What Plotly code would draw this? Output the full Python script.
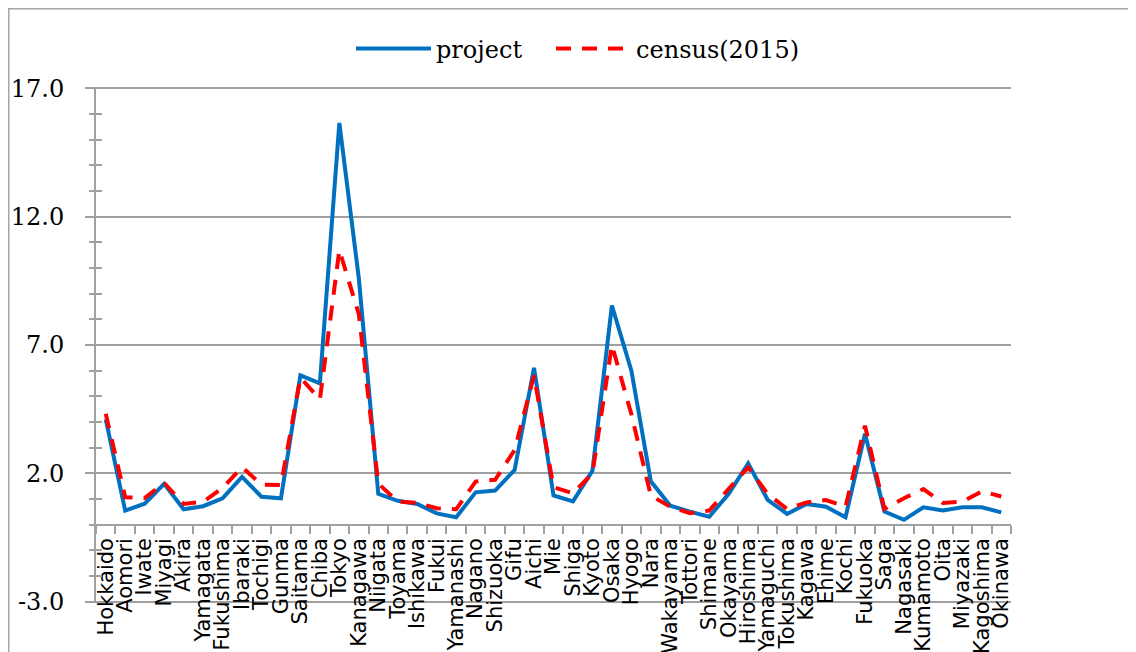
import plotly.graph_objects as go

prefectures = ["Hokkaido", "Aomori", "Iwate", "Miyagi", "Akira", "Yamagata", "Fukushima",
               "Ibaraki", "Tochigi", "Gunma", "Saitama", "Chiba", "Tokyo", "Kanagawa",
               "Niigata", "Toyama", "Ishikawa", "Fukui", "Yamanashi", "Nagano", "Shizuoka",
               "Gifu", "Aichi", "Mie", "Shiga", "Kyoto", "Osaka", "Hyogo", "Nara",
               "Wakayama", "Tottori", "Shimane", "Okayama", "Hiroshima", "Yamaguchi",
               "Tokushima", "Kagawa", "Ehime", "Kochi", "Fukuoka", "Saga", "Nagasaki",
               "Kumamoto", "Oita", "Miyazaki", "Kagoshima", "Okinawa"]

project = [4.10, 0.55, 0.82, 1.59, 0.60, 0.72, 1.03,
           1.86, 1.09, 1.03, 5.82, 5.51, 15.65, 9.6,
           1.20, 0.93, 0.81, 0.44, 0.29, 1.26, 1.33,
           2.13, 6.11, 1.14, 0.91, 2.10, 8.54, 6.0, 1.69,
           0.74, 0.51, 0.31, 1.20, 2.39, 0.97,
           0.42, 0.81, 0.70, 0.29, 3.54, 0.51, 0.19,
           0.68, 0.55, 0.68, 0.68, 0.48]

census2015 = [4.32, 1.07, 1.04, 1.63, 0.81, 0.89, 1.43,
              2.24, 1.56, 1.55, 5.73, 4.88, 10.7, 8.2,
              1.60, 0.90, 0.85, 0.64, 0.60, 1.68, 1.75,
              2.90, 5.81, 1.46, 1.22, 2.00, 7.00, 4.30, 1.13,
              0.70, 0.45, 0.55, 1.40, 2.23, 1.20,
              0.61, 0.87, 0.96, 0.70, 3.86, 0.61, 1.03,
              1.39, 0.85, 0.90, 1.30, 1.10]

y_ticks = [-3, 2, 7, 12, 17]
series_names = ["project", "census(2015)"]

GRID = "#A0A0A0"
SERIF = "DejaVu Serif"
Y_RANGE = [-3.05, 17.05]

fig = go.Figure()
fig.add_trace(go.Scatter(x=prefectures, y=project, name=series_names[0], mode="lines",
                         line=dict(color="#0070C0", width=4), legend="legend"))
fig.add_trace(go.Scatter(x=prefectures, y=census2015, name=series_names[1], mode="lines",
                         line=dict(color="#FF0000", width=4, dash="15px,11px"),
                         legend="legend2"))
# invisible trace carrying the second (tick-only) y axis
fig.add_trace(go.Scatter(x=prefectures, y=project, yaxis="y2", mode="lines",
                         line=dict(width=0), showlegend=False, hoverinfo="skip", opacity=0))

legend_style = dict(orientation="h", xanchor="left", y=1.074, yanchor="middle",
                    font=dict(family=SERIF, size=24, color="black"),
                    itemwidth=75, bgcolor="rgba(0,0,0,0)")

fig.update_layout(
    width=1136, height=652,
    margin=dict(l=88, r=133, t=79, b=57, pad=0),
    paper_bgcolor="white", plot_bgcolor="white",
    showlegend=True,
    legend=dict(x=0.2787, **legend_style),
    legend2=dict(x=0.4973, **legend_style),
    xaxis=dict(type="category", categoryorder="array", categoryarray=prefectures,
               range=[-0.5, len(prefectures) - 0.5],
               tickmode="linear", tick0=0, dtick=1, tickson="boundaries",
               ticks="outside", ticklen=8, tickcolor=GRID, tickwidth=1.5,
               showline=True, linecolor=GRID, linewidth=2,
               anchor="free", position=(0 - Y_RANGE[0]) / (Y_RANGE[1] - Y_RANGE[0]),
               tickangle=-90, ticklabelstandoff=4,
               tickfont=dict(family="DejaVu Sans", size=21, color="black"),
               showgrid=False, zeroline=False, automargin=False, fixedrange=True),
    yaxis=dict(range=Y_RANGE, tickmode="array", tickvals=y_ticks,
               ticktext=[f"{v:.1f}" for v in y_ticks],
               showgrid=True, gridcolor=GRID, gridwidth=1.5,
               showline=True, linecolor=GRID, linewidth=2,
               ticks="outside", ticklen=9, tickcolor=GRID, tickwidth=1.5,
               minor=dict(ticks="inside", ticklen=6, dtick=1, tick0=-3,
                          tickcolor=GRID, tickwidth=1.5, showgrid=False),
               zeroline=False, automargin=False, ticklabelstandoff=16,
               tickfont=dict(family=SERIF, size=24, color="black")),
    yaxis2=dict(range=Y_RANGE, overlaying="y", side="left", anchor="x",
                tickmode="linear", tick0=-3, dtick=1, ticks="outside", ticklen=6,
                tickcolor=GRID, tickwidth=1.5, showticklabels=False,
                showgrid=False, showline=False, zeroline=False, automargin=False),
    shapes=[dict(type="rect", xref="paper", yref="paper",
                 x0=-88 / 915, x1=1.3, y0=-0.3, y1=595 / 516,
                 line=dict(color="#A6A6A6", width=3), fillcolor="rgba(0,0,0,0)",
                 layer="below")],
)

fig.write_html("out.html")
